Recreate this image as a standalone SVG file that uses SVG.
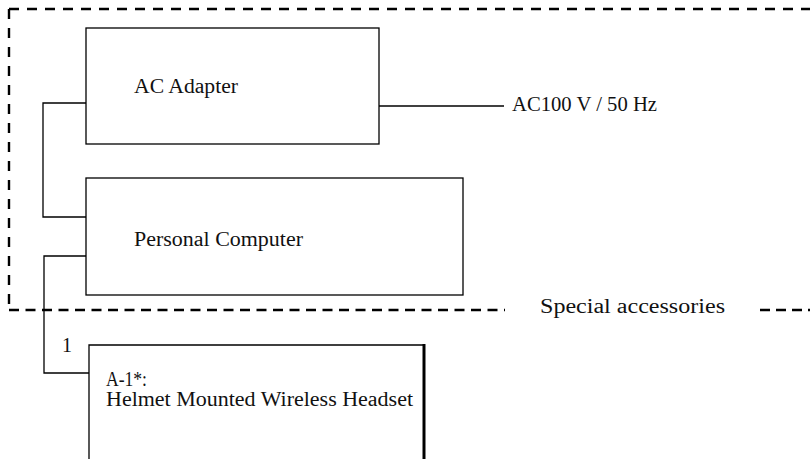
<svg xmlns="http://www.w3.org/2000/svg" width="810" height="459" viewBox="0 0 810 459">
<style>
.box{fill:none;stroke:#000;stroke-width:1.3}
.wire{fill:none;stroke:#000;stroke-width:1.3}
.dash{fill:none;stroke:#000;stroke-width:2.4}
.t{font-family:"Liberation Serif","Times New Roman",serif;font-size:20px;fill:#111}
</style>
<rect width="810" height="459" fill="#fff"/>
<g id="boundary">
<path class="dash" d="M9 9 H810" stroke-dasharray="10 8"/>
<path class="dash" d="M9 9 V310" stroke-dasharray="10 9"/>
<path class="dash" d="M9 310 H505" stroke-dasharray="10 6.5"/>
<path class="dash" d="M760 310 H810" stroke-dasharray="10 6"/>
<text class="t" x="540" y="313" textLength="185" lengthAdjust="spacingAndGlyphs">Special accessories</text>
</g>
<g id="connectors">
<path class="wire" d="M86 103 H43 V217 H86"/>
<path class="wire" d="M86 256 H44 V373 H89"/>
<path class="wire" d="M379 106 H504"/>
</g>
<g id="ac-adapter">
<rect class="box" x="86" y="28" width="293" height="116"/>
<text class="t" x="134" y="93" textLength="104" lengthAdjust="spacingAndGlyphs">AC Adapter</text>
</g>
<g id="power-label">
<text class="t" x="512" y="111" textLength="145" lengthAdjust="spacingAndGlyphs">AC100 V / 50 Hz</text>
</g>
<g id="personal-computer">
<rect class="box" x="86" y="178" width="377" height="117"/>
<text class="t" x="134" y="246" textLength="169" lengthAdjust="spacingAndGlyphs">Personal Computer</text>
</g>
<g id="headset">
<path class="box" d="M89 459 V345 H424"/>
<path fill="none" stroke="#000" stroke-width="3" d="M424 344 V459"/>
<text class="t" x="62" y="352">1</text>
<text class="t" x="106" y="386" textLength="41" lengthAdjust="spacingAndGlyphs">A-1*:</text>
<text class="t" x="106" y="406" textLength="307" lengthAdjust="spacingAndGlyphs">Helmet Mounted Wireless Headset</text>
</g>
</svg>
